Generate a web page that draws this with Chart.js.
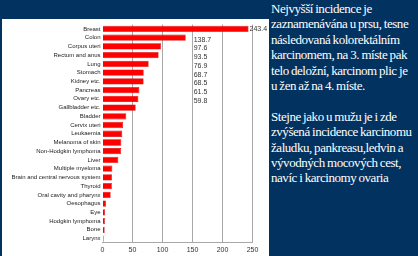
<!DOCTYPE html>
<html><head><meta charset="utf-8">
<script src="https://cdn.jsdelivr.net/npm/chart.js@4/dist/chart.umd.min.js"></script>
<style>
html,body{margin:0;padding:0;width:418px;height:256px;overflow:hidden;background:#02325f;}
#panel{position:absolute;left:2px;top:19px;width:267px;height:237px;background:#fff;}
#c{position:absolute;left:0;top:0;}
#txt{position:absolute;left:271px;top:1px;width:150px;color:#fff;font-family:"Liberation Serif","Times New Roman",serif;font-size:13px;letter-spacing:-0.45px;word-spacing:-0.5px;line-height:15.4px;white-space:nowrap;}
</style></head>
<body>
<div id="panel"><canvas id="c" width="267" height="237"></canvas></div>
<div id="txt">Nejvyšší incidence je<br>zaznamenávána u prsu, tesne<br>následovaná kolorektálním<br>karcinomem, na 3. míste pak<br>telo deložní, karcinom plic je<br>u žen až na 4. míste.<br><br>Stejne jako u mužu je i zde<br>zvýšená incidence karcinomu<br>žaludku, pankreasu,ledvin a<br>vývodných mocových cest,<br>navíc i karcinomy ovaria</div>
<script>
const categories = ["Breast","Colon","Corpus uteri","Rectum and anus","Lung","Stomach","Kidney etc.","Pancreas","Ovary etc.","Gallbladder etc.","Bladder","Cervix uteri","Leukaemia","Melanoma of skin","Non-Hodgkin lymphoma","Liver","Multiple myeloma","Brain and central nervous system","Thyroid","Oral cavity and pharynx","Oesophagus","Eye","Hodgkin lymphoma","Bone","Larynx"];
const incidence = [243.4,138.7,97.6,93.5,76.9,68.7,68.5,61.5,59.8,55.3,39.7,34.2,33.0,31.4,31.0,26.4,16.4,15.8,15.6,13.6,5.8,4.2,4.0,3.6,2.0];
const valueLabels = ["243.4","138.7","97.6","93.5","76.9","68.7","68.5","61.5","59.8"];
const xTicks = [0,50,100,150,200,250];

const labelPlugin = {
  id:'valueLabels',
  afterDatasetsDraw(chart){
    const ctx = chart.ctx;
    const meta = chart.getDatasetMeta(0);
    const xs = chart.scales.x;
    ctx.save();
    ctx.font = '7px "Liberation Sans", Arial, sans-serif';
    ctx.fillStyle = '#333';
    ctx.textAlign = 'left';
    ctx.textBaseline = 'middle';
    valueLabels.forEach((t,i)=>{
      const bar = meta.data[i];
      if(i===0){
        ctx.fillText(t, bar.x + 1, bar.y);
      } else {
        ctx.fillText(t, xs.getPixelForValue(152), bar.y + 2);
      }
    });
    ctx.restore();
  }
};

new Chart(document.getElementById('c'), {
  type:'bar',
  data:{labels:categories, datasets:[{data:incidence, backgroundColor:'#ff0000', borderColor:'#d00000', borderWidth:0.6}]},
  options:{
    indexAxis:'y', responsive:false, animation:false, devicePixelRatio:1,
    layout:{padding:{top:5, right:16.5, left:0, bottom:0}},
    plugins:{legend:{display:false}, tooltip:{enabled:false}},
    scales:{
      x:{min:0,max:250,
        afterBuildTicks(s){ s.ticks = xTicks.map(v=>({value:v})); },
        afterFit(s){ s.height = 13.1; },
        ticks:{font:{size:7,family:'"Liberation Sans", Arial, sans-serif'}, color:'#333', padding:3, maxRotation:0},
        grid:{drawTicks:false, color:(c)=> c.tick && c.tick.value===0 ? 'rgba(0,0,0,0)' : '#a8a8a8', lineWidth:1},
        border:{display:true, color:'#a8a8a8'}
      },
      y:{
        afterFit(s){ s.width = 100.5; },
        ticks:{font:{size:6,family:'"Liberation Sans", Arial, sans-serif'}, color:'#222', padding:2, autoSkip:false},
        grid:{display:false, drawTicks:false},
        border:{display:false}
      }
    }
  },
  plugins:[labelPlugin]
});
</script>
</body></html>
